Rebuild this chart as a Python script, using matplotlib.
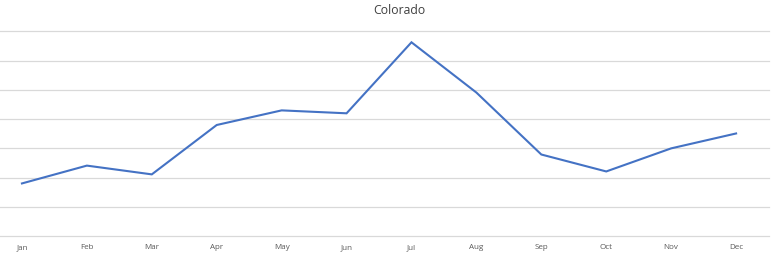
import matplotlib.pyplot as plt
import numpy as np

months = ['Jan', 'Feb', 'Mar', 'Apr', 'May', 'Jun',
          'Jul', 'Aug', 'Sep', 'Oct', 'Nov', 'Dec']
values = [1.80, 2.41, 2.11, 3.80, 4.30, 4.20,
          6.63, 4.91, 2.79, 2.21, 3.00, 3.51]
grid_levels = [0, 1, 2, 3, 4, 5, 6, 7]

def plot_all():
    fig = plt.figure(figsize=(7.81, 2.56), dpi=100)
    ax = fig.add_axes([-0.01345, 0.078, 0.9975, 0.799])

    x = np.arange(len(months))
    ax.plot(x, values, color='#4472C4', linewidth=1.5, solid_joinstyle='miter')

    ax.set_xlim(-0.5, len(months) - 0.5)
    ax.set_ylim(0, 7)
    ax.set_yticks(grid_levels)
    ax.set_yticklabels([])
    ax.yaxis.grid(True, color='#d9d9d9', linewidth=0.9)
    for gl in ax.get_ygridlines():
        gl.set_clip_on(False)
    ax.set_axisbelow(True)
    ax.tick_params(axis='y', length=0)

    ax.set_xticks(x)
    ax.set_xticklabels(months, fontname='Open Sans', fontsize=5.8, color='#595959')
    ax.tick_params(axis='x', length=0, pad=6)

    for s in ax.spines.values():
        s.set_visible(False)

    fig.text(399 / 781, 1 - 11 / 256, 'Colorado', ha='center', va='center',
             fontname='Open Sans', fontsize=8.8, color='#404040')

    fig.savefig('out.png', dpi=100)

plot_all()
